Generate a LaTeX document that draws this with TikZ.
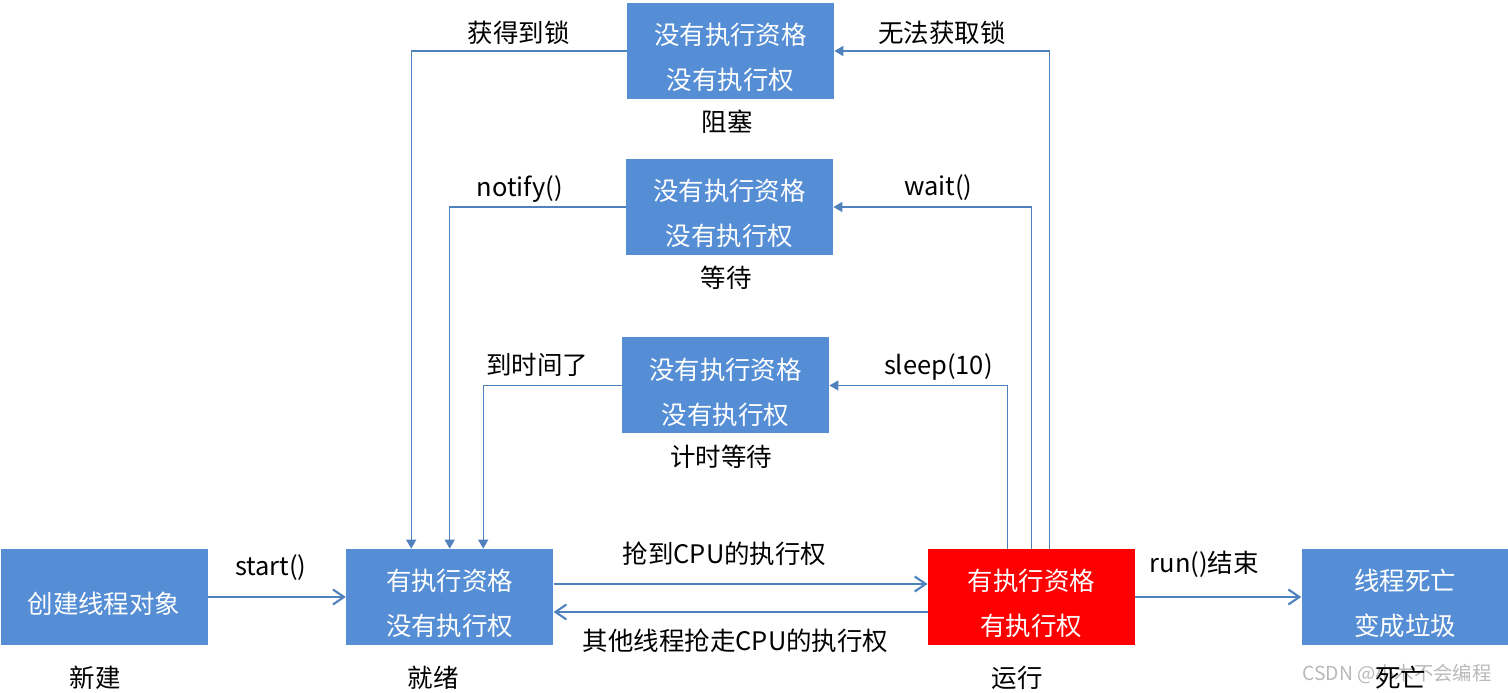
\documentclass[tikz,border=0pt]{standalone}
\usepackage{fontspec}
\setmainfont{Noto Sans CJK SC}
\usetikzlibrary{arrows.meta,positioning}
\definecolor{boxblue}{RGB}{85,142,213}
\definecolor{linkblue}{RGB}{79,129,189}
\definecolor{runred}{RGB}{255,0,0}
\newcommand{\padtop}{\rule{0pt}{19.6pt}}

\begin{document}
\begin{tikzpicture}[font=\fontsize{14.5}{25.5}\selectfont, state/.style = {fill=boxblue, text=white, align=center, inner sep=0pt, minimum width=4.14cm, minimum height=1.92cm}, tag/.style = {inner sep=0pt}, go/.style = {draw=linkblue, line width=1.2pt, -{Straight Barb[length=0.22cm, width=0.3cm]}}, back/.style = {draw=linkblue, line width=0.8pt, -{Triangle[length=0.18cm, width=0.2cm]}}]
\useasboundingbox (0,0) rectangle (30.16,13.86);

\node[state] (create) at (2.08,1.92) {\padtop 创建线程对象};
\node[state] (ready) [right=2.76cm of create] {\padtop 有执行资格\\没有执行权};
\node[state, fill=runred] (run) [right=7.48cm of ready] {\padtop 有执行资格\\有执行权};
\node[state] (dead) [right=3.32cm of run] {\padtop 线程死亡\\变成垃圾};
\node[state] (blocked) at (14.61,12.84) {\padtop 没有执行资格\\没有执行权};
\node[state] (waiting) at (14.59,9.72) {\padtop 没有执行资格\\没有执行权};
\node[state] (timed) at (14.51,6.15) {\padtop 没有执行资格\\没有执行权};

% watermark
\node[tag, text=gray!55, font=\fontsize{11}{13}\selectfont] (mark) at (27.94,0.38) {CSDN @小木不会编程};

\node[tag] (newLbl) [below=0.4cm of create, xshift=-0.18cm] {新建};
\node[tag] (readyLbl) [below=0.4cm of ready, xshift=-0.33cm] {就绪};
\node[tag] (runLbl) [below=0.4cm of run, xshift=-0.28cm] {运行};
\node[tag] (deadLbl) [below=0.4cm of dead, xshift=-0.09cm] {死亡};
\node[tag] (blockedLbl) [below=0.2cm of blocked, xshift=-0.07cm] {阻塞};
\node[tag] (waitingLbl) [below=0.2cm of waiting, xshift=-0.07cm] {等待};
\node[tag] (timedLbl) [below=0.22cm of timed, xshift=-0.09cm] {计时等待};

\draw[go] (create) -- (ready) node[tag, midway, above=0.3cm, xshift=-0.12cm] {start()};
\draw[go] ([yshift=0.26cm]ready.east) -- ([yshift=0.26cm]run.west) node[tag, midway, above=0.34cm, xshift=-0.32cm] {抢到CPU的执行权};
\draw[go] ([yshift=-0.3cm]run.west) -- ([yshift=-0.3cm]ready.east) node[tag, midway, below=0.32cm, xshift=-0.1cm] {其他线程抢走CPU的执行权};
\draw[go] (run) -- (dead) node[tag, midway, above=0.36cm, xshift=-0.28cm] {run()结束};

\draw[back] ([xshift=0.36cm]run.north) |- (blocked.east) node[tag, pos=0.75, above=0.12cm] {无法获取锁};
\draw[back] (blocked.west) -| ([xshift=-0.77cm]ready.north) node[tag, pos=0.25, above=0.12cm] {获得到锁};
\draw[back] (run.north) |- (waiting.east) node[tag, pos=0.75, above=0.12cm, xshift=0.12cm] {wait()};
\draw[back] (waiting.west) -| (ready.north) node[tag, pos=0.25, above=0.08cm, xshift=-0.36cm] {notify()};
\draw[back] ([xshift=-0.48cm]run.north) |- (timed.east) node[tag, pos=0.75, above=0.08cm, xshift=0.4cm] {sleep(10)};
\draw[back] (timed.west) -| ([xshift=0.67cm]ready.north) node[tag, pos=0.25, above=0.16cm, xshift=-0.3cm] {到时间了};
\end{tikzpicture}
\end{document}
